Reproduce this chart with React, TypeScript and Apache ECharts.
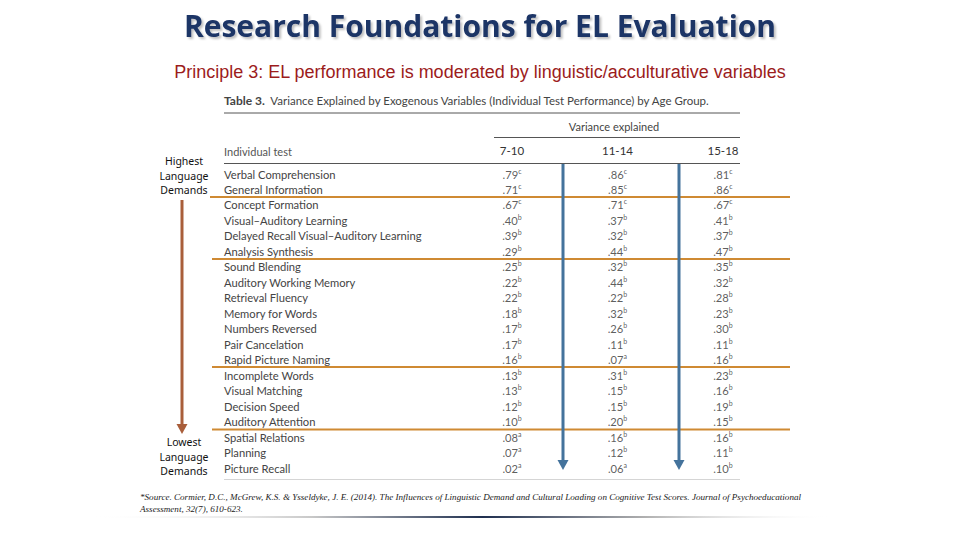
import React, { useEffect, useRef } from 'react';
import * as echarts from 'echarts';

const ageGroups = ['7-10', '11-14', '15-18'];
const tests = [
  'Verbal Comprehension',
  'General Information',
  'Concept Formation',
  'Visual–Auditory Learning',
  'Delayed Recall Visual–Auditory Learning',
  'Analysis Synthesis',
  'Sound Blending',
  'Auditory Working Memory',
  'Retrieval Fluency',
  'Memory for Words',
  'Numbers Reversed',
  'Pair Cancelation',
  'Rapid Picture Naming',
  'Incomplete Words',
  'Visual Matching',
  'Decision Speed',
  'Auditory Attention',
  'Spatial Relations',
  'Planning',
  'Picture Recall',
];
const age7to10 = [0.79, 0.71, 0.67, 0.40, 0.39, 0.29, 0.25, 0.22, 0.22, 0.18, 0.17, 0.17, 0.16, 0.13, 0.13, 0.12, 0.10, 0.08, 0.07, 0.02];
const age11to14 = [0.86, 0.85, 0.71, 0.37, 0.32, 0.44, 0.32, 0.44, 0.22, 0.32, 0.26, 0.11, 0.07, 0.31, 0.15, 0.15, 0.20, 0.16, 0.12, 0.06];
const age15to18 = [0.81, 0.86, 0.67, 0.41, 0.37, 0.47, 0.35, 0.32, 0.28, 0.23, 0.30, 0.11, 0.16, 0.23, 0.16, 0.19, 0.15, 0.16, 0.11, 0.10];
const sig7to10 = ['c', 'c', 'c', 'b', 'b', 'b', 'b', 'b', 'b', 'b', 'b', 'b', 'b', 'b', 'b', 'b', 'b', 'a', 'a', 'a'];
const sig11to14 = ['c', 'c', 'c', 'b', 'b', 'b', 'b', 'b', 'b', 'b', 'b', 'b', 'a', 'b', 'b', 'b', 'b', 'b', 'b', 'a'];
const sig15to18 = ['c', 'c', 'c', 'b', 'b', 'b', 'b', 'b', 'b', 'b', 'b', 'b', 'b', 'b', 'b', 'b', 'b', 'b', 'b', 'b'];

const titleText = 'Research Foundations for EL Evaluation';
const subtitleText = 'Principle 3: EL performance is moderated by linguistic/acculturative variables';
const tableTitle = 'Variance Explained by Exogenous Variables (Individual Test Performance) by Age Group.';
const highLabel = ['Highest', 'Language', 'Demands'];
const lowLabel = ['Lowest', 'Language', 'Demands'];
const footnote1 = '*Source. Cormier, D.C., McGrew, K.S. & Ysseldyke, J. E. (2014). The Influences of Linguistic Demand and Cultural Loading on Cognitive Test Scores. Journal of Psychoeducational';
const footnote2 = 'Assessment, 32(7), 610-623.';

const TABLE_FONT = 'Lato, "Open Sans", sans-serif';
const ORANGE = '#CF8A33';
const BLUE = '#44739C';
const BROWN = '#A95E3A';

const fmt = (v: number) => v.toFixed(2).replace(/^0/, '');

export default function App() {
  const ref = useRef<HTMLDivElement>(null);
  useEffect(() => {
    if (!ref.current) return;
    const chart = echarts.init(ref.current, null, { renderer: 'svg' });

    const cols = [age7to10, age11to14, age15to18];
    const sigs = [sig7to10, sig11to14, sig15to18];
    const series = cols.map((vals, c) => ({
      type: 'scatter',
      silent: true,
      symbolSize: 0,
      itemStyle: { color: 'rgba(0,0,0,0)' },
      data: vals.map((v, r) => ({ value: [c, r], sig: sigs[c][r], num: v })),
      label: {
        show: true,
        position: 'inside',
        formatter: (p: any) => `{n|${fmt(p.data.num)}}{s|${p.data.sig}}`,
        rich: {
          n: { fontSize: 11.2, fontFamily: TABLE_FONT, color: '#333', lineHeight: 14 },
          s: { fontSize: 7, fontFamily: TABLE_FONT, color: '#333', lineHeight: 9, verticalAlign: 'top' },
        },
      },
    }));

    const rowH = (468 - 174) / 19;
    const gridTop = 174 - rowH / 2;
    const colW = 105.5;
    const gridLeft = 512 - colW / 2;

    const sideText = (lines: string[], y0: number) =>
      lines.map((t, i) => ({
        type: 'text',
        style: {
          text: t,
          x: 184,
          y: y0 + i * 14.6,
          align: 'center',
          verticalAlign: 'middle',
          fontSize: 10.5,
          fontFamily: '"Noto Sans", sans-serif',
          fill: '#111',
        },
      }));

    const hLine = (x1: number, x2: number, y: number, stroke: string, lw: number) => ({
      type: 'line',
      shape: { x1, y1: y, x2, y2: y },
      style: { stroke, lineWidth: lw },
    });

    const downArrow = (x: number, y1: number, y2: number, color: string) => [
      { type: 'line', shape: { x1: x, y1, x2: x, y2: y2 - 8 }, style: { stroke: color, lineWidth: 3 } },
      { type: 'polygon', shape: { points: [[x - 5.5, y2 - 10], [x + 5.5, y2 - 10], [x, y2]] }, style: { fill: color } },
    ];

    chart.setOption({
      animation: false,
      grid: { left: gridLeft, top: gridTop, width: colW * 3, height: rowH * 20 },
      xAxis: {
        type: 'category',
        position: 'top',
        data: ageGroups,
        axisLine: { show: false },
        axisTick: { show: false },
        splitLine: { show: false },
        axisLabel: { margin: 10, fontSize: 11.5, fontFamily: TABLE_FONT, color: '#333' },
      },
      yAxis: {
        type: 'category',
        inverse: true,
        data: tests,
        axisLine: { show: false },
        axisTick: { show: false },
        splitLine: { show: false },
        axisLabel: { align: 'left', margin: gridLeft - 224, fontSize: 11.2, fontFamily: TABLE_FONT, color: '#444' },
      },
      series,
      graphic: [
        {
          type: 'text',
          style: {
            text: titleText, x: 480, y: 25, align: 'center', verticalAlign: 'middle',
            fontSize: 30, fontWeight: 'bold', fontFamily: '"Open Sans", sans-serif', fill: '#1C3466',
            textShadowColor: 'rgba(0,0,0,0.25)', textShadowBlur: 2, textShadowOffsetX: 2, textShadowOffsetY: 2,
          },
        },
        {
          type: 'text',
          style: {
            text: subtitleText, x: 480, y: 72, align: 'center', verticalAlign: 'middle',
            fontSize: 18, fontFamily: '"Liberation Sans", Arial, sans-serif', fill: '#9C1C1C',
          },
        },
        {
          type: 'text',
          style: {
            text: `{b|Table 3.}  ${tableTitle}`, x: 224, y: 100, align: 'left', verticalAlign: 'middle',
            fontSize: 11.5, fontFamily: TABLE_FONT, fill: '#444',
            rich: { b: { fontSize: 12, fontWeight: 'bold', fontFamily: TABLE_FONT, color: '#333' } },
          },
        },
        hLine(224, 740, 113, '#555', 1),
        {
          type: 'text',
          style: {
            text: 'Variance explained', x: 614, y: 126, align: 'center', verticalAlign: 'middle',
            fontSize: 11, fontFamily: TABLE_FONT, fill: '#444',
          },
        },
        hLine(494, 740, 137.5, '#555', 1),
        {
          type: 'text',
          style: {
            text: 'Individual test', x: 224, y: 151, align: 'left', verticalAlign: 'middle',
            fontSize: 11, fontFamily: TABLE_FONT, fill: '#555',
          },
        },
        hLine(224, 740, 163.5, '#555', 1),
        hLine(224, 740, 479.5, '#d5d5d5', 1),
        hLine(210, 790, 197, ORANGE, 2),
        hLine(212, 790, 259, ORANGE, 2),
        hLine(212, 790, 367, ORANGE, 2),
        hLine(212, 790, 429.5, ORANGE, 2),
        ...downArrow(182, 200, 434, BROWN),
        ...downArrow(563, 164, 470, BLUE),
        ...downArrow(679, 164, 470, BLUE),
        ...sideText(highLabel, 161),
        ...sideText(lowLabel, 442),
        {
          type: 'text',
          style: {
            text: footnote1, x: 140, y: 497, align: 'left', verticalAlign: 'middle',
            fontSize: 9.1, fontStyle: 'italic', fontFamily: '"Liberation Serif", serif', fill: '#222',
          },
        },
        {
          type: 'text',
          style: {
            text: footnote2, x: 140, y: 509, align: 'left', verticalAlign: 'middle',
            fontSize: 9.1, fontStyle: 'italic', fontFamily: '"Liberation Serif", serif', fill: '#222',
          },
        },
        {
          type: 'rect',
          shape: { x: 90, y: 516, width: 740, height: 2 },
          style: {
            fill: new echarts.graphic.LinearGradient(0, 0, 1, 0, [
              { offset: 0, color: 'rgba(255,255,255,0)' },
              { offset: 0.3, color: '#c8c8c8' },
              { offset: 0.53, color: '#1F2F4F' },
              { offset: 0.75, color: '#b0b0b0' },
              { offset: 1, color: 'rgba(255,255,255,0)' },
            ]),
          },
        },
      ],
    });
    return () => chart.dispose();
  }, []);
  return <div ref={ref} style={{ position: 'fixed', left: 0, top: 0, width: 960, height: 540, background: '#fff' }} />;
}
